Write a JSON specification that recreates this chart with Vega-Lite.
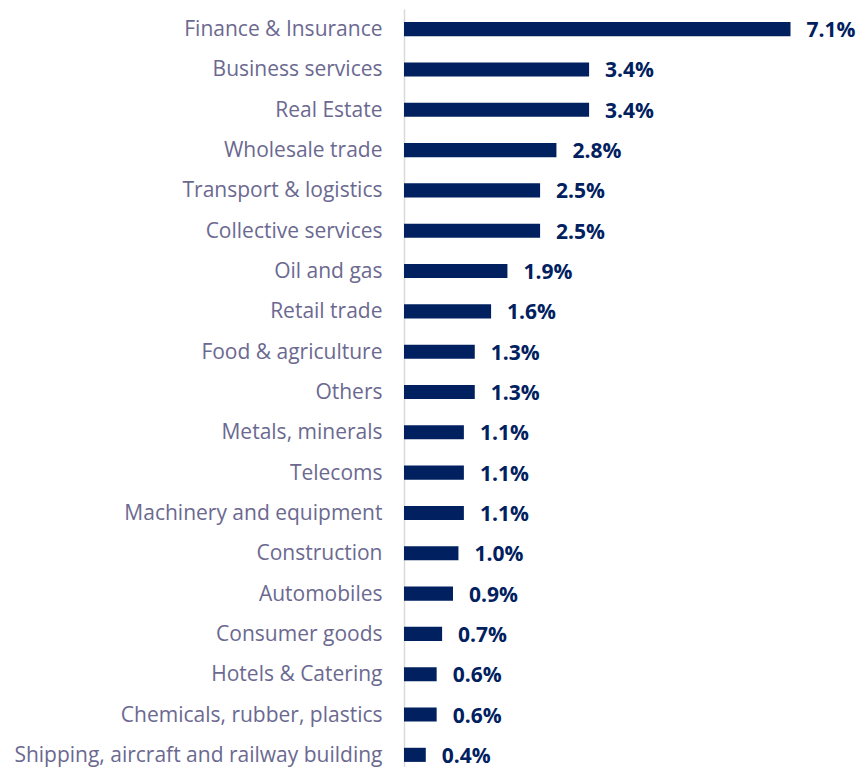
{
  "$schema": "https://vega.github.io/schema/vega-lite/v6.json",
  "width": 460,
  "height": 766,
  "autosize": {"type": "none"},
  "padding": {"left": 404, "top": 9, "right": 0, "bottom": 0},
  "background": "white",
  "config": {"view": {"stroke": null}},
  "data": {
    "values": [
      {"sector": "Finance & Insurance", "value": 0.071},
      {"sector": "Business services", "value": 0.034},
      {"sector": "Real Estate", "value": 0.034},
      {"sector": "Wholesale trade", "value": 0.028},
      {"sector": "Transport & logistics", "value": 0.025},
      {"sector": "Collective services", "value": 0.025},
      {"sector": "Oil and gas", "value": 0.019},
      {"sector": "Retail trade", "value": 0.016},
      {"sector": "Food & agriculture", "value": 0.013},
      {"sector": "Others", "value": 0.013},
      {"sector": "Metals, minerals", "value": 0.011},
      {"sector": "Telecoms", "value": 0.011},
      {"sector": "Machinery and equipment", "value": 0.011},
      {"sector": "Construction", "value": 0.010},
      {"sector": "Automobiles", "value": 0.009},
      {"sector": "Consumer goods", "value": 0.007},
      {"sector": "Hotels & Catering", "value": 0.006},
      {"sector": "Chemicals, rubber, plastics", "value": 0.006},
      {"sector": "Shipping, aircraft and railway building", "value": 0.004}
    ]
  },
  "encoding": {
    "y": {
      "field": "sector",
      "type": "nominal",
      "sort": null,
      "scale": {"paddingInner": 0.65, "paddingOuter": 0.325},
      "axis": {
        "title": null,
        "ticks": false,
        "domainColor": "#d9d9d9",
        "domainWidth": 1.5,
        "labelColor": "#6b6990",
        "labelFont": "Open Sans",
        "labelFontSize": 21,
        "labelPadding": 22,
        "labelOffset": 1,
        "labelLimit": 420
      }
    },
    "x": {
      "field": "value",
      "type": "quantitative",
      "scale": {"domain": [0, 0.0845]},
      "axis": null
    }
  },
  "layer": [
    {"mark": {"type": "bar", "color": "#002060"}},
    {
      "mark": {"type": "text", "align": "left", "dx": 16, "dy": 2, "font": "Open Sans", "fontWeight": "bold", "fontSize": 21, "color": "#002060"},
      "encoding": {"text": {"field": "value", "type": "quantitative", "format": ".1%"}}
    }
  ]
}
